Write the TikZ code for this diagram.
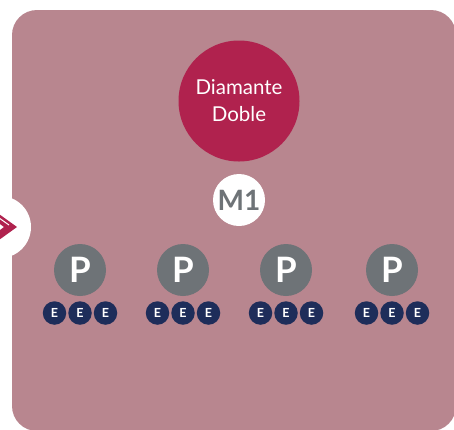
\documentclass[tikz,border=0pt]{standalone}
\usepackage{fontspec}
\setmainfont{Lato}
\usepackage{pgf,tikz}
\definecolor{panel}{HTML}{B8868F}
\definecolor{diared}{HTML}{B0224E}
\definecolor{pgrey}{HTML}{6E7377}
\definecolor{enavy}{HTML}{1E2D5A}
\tikzset{
  dot/.style={circle, inner sep=0pt, minimum size=#1},
  ptext/.style={font=\fontsize{35}{35}\selectfont\bfseries, text=white},
  etext/.style={font=\fontsize{12.5}{12.5}\selectfont\bfseries, text=white}
}
\begin{document}
\begin{tikzpicture}[x=1pt,y=-1pt]
    \useasboundingbox (0,0) rectangle (454,429);
    \clip (0,0) rectangle (454,429);
    \fill[panel, rounded corners=25pt] (12,10) rectangle (456,431);
    % side bubble with chevron
    \fill[white] (0,227) circle (31);
    \fill[diared] (-8,209) -- (17,227) -- (-8,245) -- (-8,236) -- (4,227) -- (-8,218) -- cycle;
    \draw[white, line width=1pt] (-8,213) -- (9,225);
    % top
    \node[dot=121pt, fill=diared, text=white, align=center,
          font=\fontsize{20.5}{27}\selectfont] (dd) at (239,101) {Diamante\\Doble};
    \node[dot=52pt, fill=white, text=pgrey, font=\fontsize{28}{28}\selectfont\bfseries] (m1) at (239,200) {M1};
    % P and E
    \foreach \i/\x in {1/80, 2/183, 3/286, 4/392} {
      \node[dot=52pt, fill=pgrey, ptext] (p\i) at (\x,270) {P};
      \foreach \j/\dx in {1/-25.5, 2/0, 3/25.5}
        \node[dot=23.5pt, fill=enavy, etext] (e\i\j) at (\x+\dx,313) {E};
    }
\end{tikzpicture}
\end{document}
